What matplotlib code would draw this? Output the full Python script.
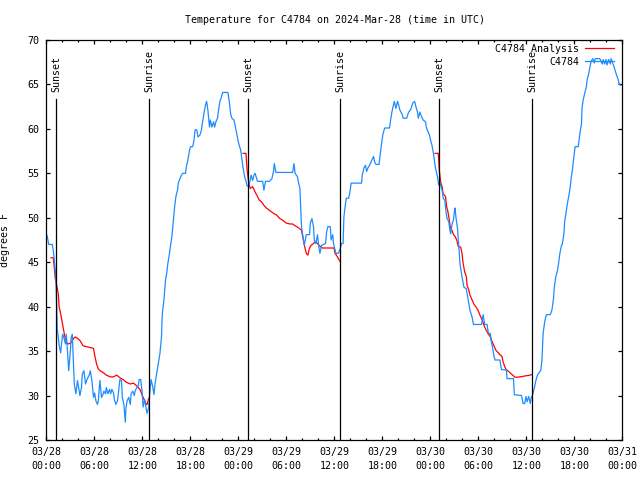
import matplotlib
matplotlib.use("Agg")
import matplotlib.pyplot as plt
import matplotlib.dates as mdates
import numpy as np
import pandas as pd

# ── data (hours after 2024-03-28 00:00 UTC) ──────────────
obs_hours = [
    0.1, 0.3, 0.75, 0.87, 0.96, 1.08, 1.2, 1.3, 1.37, 1.5, 1.62, 1.8, 1.9, 2.04,
    2.2, 2.4, 2.5, 2.7, 2.8, 2.9, 3.04, 3.1, 3.25, 3.4, 3.5, 3.7, 3.9, 4.04, 4.2,
    4.4, 4.5, 4.7, 4.9, 5.04, 5.2, 5.4, 5.5, 5.7, 5.9, 6.04, 6.2, 6.4, 6.5, 6.7,
    6.9, 7.04, 7.2, 7.4, 7.5, 7.7, 7.9, 8.04, 8.2, 8.4, 8.5, 8.7, 8.9, 9.04, 9.2,
    9.4, 9.5, 9.7, 9.875, 9.96, 10.1, 10.3, 10.5, 10.6, 10.8, 11.0, 11.1, 11.3,
    11.5, 11.6, 11.8, 12.0, 12.1, 12.3, 12.5, 12.6, 12.8, 12.96, 13.1, 13.3,
    13.46, 13.6, 13.8, 14.0, 14.2, 14.4, 14.5, 14.7, 14.9, 15.04, 15.2, 15.4,
    15.5, 15.7, 15.9, 16.04, 16.2, 16.4, 16.5, 16.7, 16.9, 17.04, 17.4, 17.5,
    17.7, 17.9, 18.04, 18.3, 18.46, 18.6, 18.8, 18.96, 19.2, 19.4, 19.5, 19.7,
    19.9, 20.04, 20.2, 20.4, 20.5, 20.7, 20.9, 21.04, 21.2, 21.4, 21.5, 21.7,
    21.9, 22.04, 22.7, 22.9, 23.04, 23.2, 23.46, 23.6, 23.8, 23.96, 24.1, 24.3,
    24.46, 24.6, 24.8, 24.96, 25.1, 25.3, 25.46, 25.6, 25.8, 25.96, 26.1, 26.4,
    27.04, 27.2, 27.4, 27.9, 28.2, 28.4, 28.5, 28.7, 30.8, 30.96, 31.1, 31.4,
    31.5, 31.7, 31.8, 31.9, 32.04, 32.25, 32.5, 32.9, 33.0, 33.2, 33.4, 33.5,
    33.7, 33.9, 34.04, 34.2, 34.4, 34.9, 35.04, 35.2, 35.5, 35.6, 35.8, 35.9,
    36.04, 36.2, 36.5, 36.7, 36.9, 37.1, 37.2, 37.4, 37.5, 37.8, 37.96, 38.1,
    39.4, 39.5, 39.7, 39.9, 40.04, 40.2, 40.4, 40.5, 40.7, 40.9, 41.04, 41.2,
    41.6, 41.8, 41.96, 42.1, 42.3, 42.9, 43.04, 43.2, 43.4, 43.5, 43.7, 43.9,
    44.04, 44.2, 44.5, 44.6, 45.04, 45.3, 45.5, 45.6, 45.8, 46.04, 46.2, 46.4,
    46.5, 46.7, 46.9, 47.1, 47.4, 47.5, 47.7, 47.9, 48.04, 48.2, 48.4, 48.5,
    48.6, 48.9, 49.04, 49.2, 49.4, 49.5, 49.6, 49.8, 49.96, 50.1, 50.3, 50.45,
    50.55, 50.7, 50.9, 51.04, 51.1, 51.2, 51.4, 51.5, 51.6, 51.7, 51.9, 52.04,
    52.2, 52.5, 52.75, 52.96, 53.2, 53.4, 54.4, 54.6, 54.8, 55.1, 55.25, 55.5,
    55.6, 55.8, 55.96, 56.1, 56.7, 56.9, 57.5, 57.6, 58.4, 58.5, 59.4, 59.6,
    59.8, 59.96, 60.1, 60.3, 60.5, 60.6, 60.8, 61.04, 61.2, 61.4, 61.6, 61.8,
    61.96, 62.04, 62.1, 62.3, 62.5, 63.0, 63.2, 63.4, 63.5, 63.7, 63.9, 64.04,
    64.2, 64.4, 64.5, 64.7, 64.8, 64.96, 65.1, 65.3, 65.5, 65.6, 65.8, 65.9,
    66.04, 66.1, 66.5, 66.7, 66.9, 66.96, 67.1, 67.3, 67.5, 67.6, 67.8, 67.96,
    68.1, 68.3, 68.5, 68.6, 69.2, 69.5, 69.6, 69.8, 69.96, 70.1, 70.3, 70.5,
    70.6, 70.8, 70.96, 71.1, 71.3, 71.5, 71.6, 71.8,
]
obs_temps = [
    48.0, 47.0, 47.0, 46.3, 45.6, 44.4, 43.3, 40.0, 37.5, 36.5, 35.6, 34.8, 35.8, 36.9,
    36.5, 35.8, 36.9, 34.3, 32.8, 33.9, 35.4, 36.5, 36.9, 33.5, 31.3, 30.2, 31.7, 30.9, 30.0,
    30.9, 32.4, 32.8, 31.3, 31.7, 32.0, 32.4, 32.8, 31.7, 29.8, 30.3, 29.4, 29.0, 29.4, 31.7,
    29.8, 30.0, 30.5, 30.2, 30.9, 30.2, 30.7, 30.2, 30.7, 30.3, 29.6, 29.0, 29.4, 30.5, 31.8,
    31.7, 29.8, 29.0, 27.0, 28.6, 29.4, 29.8, 29.0, 30.2, 30.5, 30.0, 30.5, 30.9,
    31.1, 31.8, 31.8, 30.2, 28.7, 29.6, 28.4, 28.0, 28.7, 30.6, 31.8, 31.0,
    30.1, 31.4, 32.5, 33.6, 34.7, 36.6, 39.2, 40.7, 43.0, 43.7, 44.9, 46.0,
    46.7, 47.9, 49.9, 51.2, 52.4, 53.1, 53.9, 54.4, 54.8, 55.0, 55.0, 55.7,
    56.5, 57.6, 58.0, 58.0, 58.7, 59.9, 59.9, 59.1, 59.3, 59.9, 60.6, 61.7,
    62.7, 63.1, 62.1, 60.2, 61.0, 60.2, 60.8, 60.2, 60.8, 61.2, 61.9, 63.1,
    63.6, 64.1, 64.1, 62.9, 61.7, 61.2, 61.0, 60.4, 59.5, 58.7, 58.2, 57.6,
    56.5, 55.6, 54.6, 54.1, 53.6, 53.5, 54.1, 54.8, 54.2, 54.8, 55.0, 54.1,
    54.1, 53.1, 54.1, 54.1, 54.4, 55.2, 56.1, 55.1, 55.1, 56.1, 55.0, 54.6,
    54.1, 53.3, 51.2, 49.0, 48.1, 46.9, 48.1, 48.1, 49.4, 49.9, 49.0, 47.5,
    47.1, 48.1, 46.9, 46.0, 46.9, 47.1, 48.4, 49.0, 49.0, 47.5, 48.1, 47.1,
    46.6, 46.0, 46.0, 46.4, 47.1, 47.1, 50.1, 51.6, 52.2, 52.2, 52.9, 53.9,
    53.9, 54.8, 55.6, 55.9, 55.2, 55.6, 55.9, 56.1, 56.5, 56.9, 56.3, 56.0,
    56.0, 57.6, 58.7, 59.5, 60.1, 60.1, 61.0, 61.9, 62.7, 63.1, 62.3, 63.1,
    62.7, 62.1, 61.6, 61.2, 61.2, 61.9, 62.1, 62.3, 62.9, 63.1, 62.5, 61.9,
    61.2, 61.9, 61.4, 61.0, 60.8, 60.2, 59.7, 59.3, 58.7, 58.2, 57.2, 56.5,
    55.8, 54.6, 53.7, 54.0, 53.3, 53.0, 52.2, 52.0, 50.7, 49.9, 49.6, 48.6,
    48.2, 49.2, 49.8, 50.9, 51.1, 50.1, 48.8, 47.5, 46.4, 44.9, 43.7, 43.0,
    42.2, 42.0, 40.7, 39.6, 38.9, 38.0, 38.0, 39.1, 38.0, 38.0, 37.0, 37.0,
    36.2, 35.3, 34.4, 34.0, 34.0, 32.9, 32.9, 31.9, 31.9, 30.1, 30.0, 29.1,
    29.1, 29.9, 29.3, 29.9, 29.1, 29.7, 30.1, 31.0, 31.7, 32.3, 32.6, 32.8,
    34.0, 35.9, 37.0, 38.3, 39.1, 39.1, 39.6, 40.9, 42.2, 43.4, 44.1, 44.9,
    46.0, 46.9, 47.0, 48.2, 49.6, 50.5, 51.4, 52.4, 53.5, 54.4, 55.6, 56.5,
    57.6, 58.0, 58.0, 59.5, 60.6, 62.3, 63.2, 64.0, 64.7, 65.5, 66.2, 67.0,
    67.6, 67.9, 67.4, 67.9, 67.9, 67.3, 67.8, 67.3, 67.8, 67.2, 67.8, 67.3,
    67.9, 67.4, 67.0, 66.6, 66.0, 65.5, 65.1, 64.9,
]

nan = float("nan")
ana_hours = [
    0.58, 0.87, 1.0, 1.1, 1.3, 1.5, 1.6, 1.8, 1.96, 2.1, 2.3, 2.5, 2.75, 3.04,
    3.4, 3.6, 3.8, 4.2, 4.6, 5.04, 5.46, 5.9, 6.1, 6.3, 6.5, 6.7, 7.1, 7.5, 8.0,
    8.4, 8.8, 9.2, 9.6, 10.0, 10.5, 10.9, 11.3, 11.7, 12.1, 12.5, 12.6, 12.8,
    12.85,
    24.6, 24.96, 25.1, 25.3, 25.5, 25.8, 26.1, 26.4, 26.6, 26.9, 27.2, 27.5,
    27.96, 28.4, 28.8, 29.2, 29.5, 30.0, 30.5, 30.8, 31.1, 31.5, 31.9, 32.1,
    32.3, 32.5, 32.7, 32.9, 33.1, 33.4, 33.6, 33.9, 34.2, 34.5, 35.96, 36.1,
    36.4, 36.6, 36.75,
    36.8,
    48.6, 49.0, 49.13, 49.3, 49.5, 49.6, 49.9, 50.04, 50.2, 50.4, 50.5, 50.7,
    50.9, 51.1, 51.3, 51.5, 51.8, 51.96, 52.1, 52.3, 52.5, 52.6, 52.8, 52.96,
    53.2, 53.5, 53.7, 53.96, 54.2, 54.5, 54.7, 54.96, 55.2, 55.5, 55.7, 55.96,
    56.2, 56.5, 56.7, 56.96, 57.1, 57.3, 57.5, 57.8, 58.04, 58.3, 58.6, 59.2,
    59.8, 60.5, 60.75,
]
ana_temps = [
    45.5, 45.5, 44.4, 43.3, 42.4, 41.4, 40.0, 39.2, 38.4, 37.7, 36.7, 36.0, 35.8, 35.9,
    36.4, 36.6, 36.5, 36.2, 35.6, 35.5, 35.4, 35.3, 34.3, 33.5, 33.0, 32.8, 32.6, 32.3, 32.1,
    32.1, 32.3, 32.0, 31.8, 31.5, 31.3, 31.4, 31.1, 30.7, 29.8, 29.0, 29.0, 29.7,
    nan,
    57.25, 57.25, 55.4, 53.9, 53.3, 53.5, 52.9, 52.4, 52.0, 51.8, 51.4, 51.1,
    50.8, 50.5, 50.3, 49.9, 49.75, 49.4, 49.3, 49.3, 49.1, 48.9, 48.6, 47.7,
    46.75, 46.0, 45.8, 46.6, 46.9, 47.1, 47.3, 47.1, 46.8, 46.6, 46.6, 46.0,
    45.6, 45.25, 45.06,
    nan,
    57.25, 57.25, 55.3, 54.0, 53.4, 52.7, 52.4, 51.25, 50.7, 49.6, 48.9, 48.6,
    48.1, 47.9, 47.5, 46.75, 46.7, 46.0, 44.9, 43.9, 43.4, 42.4, 41.9, 41.3,
    40.8, 40.2, 40.0, 39.6, 39.06, 38.5, 37.9, 37.4, 37.0, 36.6, 36.1, 35.6,
    35.1, 34.8, 34.6, 34.4, 33.8, 33.25, 32.9, 32.7, 32.5, 32.3, 32.05, 32.1,
    32.2, 32.3, 32.4,
]

sun_labels = ["Sunset", "Sunrise", "Sunset", "Sunrise", "Sunset", "Sunrise"]
sun_times = ["2024-03-28 01:15", "2024-03-28 12:52", "2024-03-29 01:15",
             "2024-03-29 12:45", "2024-03-30 01:07", "2024-03-30 12:45"]

# ── style ───────────────────────────────────────────────
plt.rcParams["font.family"] = ["DejaVu Sans Mono"]
plt.rcParams["font.size"] = 7.2

base = pd.Timestamp("2024-03-28 00:00")
obs_t = base + pd.to_timedelta(obs_hours, unit="h")
ana_t = base + pd.to_timedelta(ana_hours, unit="h")

fig = plt.figure(figsize=(6.4, 4.8), dpi=100)
ax = fig.add_axes([46.3 / 640, 40 / 480, 576 / 640, 400 / 480])

ax.plot(ana_t, ana_temps, color="#ff0000", lw=0.9, label="C4784 Analysis")
ax.plot(obs_t, obs_temps, color="#1e8cff", lw=0.9, label="C4784")

for lab, ts in zip(sun_labels, sun_times):
    t = pd.Timestamp(ts)
    ax.axvline(t, ymin=0, ymax=0.8525, color="black", lw=0.9, zorder=5)
    ax.text(t, 0.87, lab, rotation=90, ha="center", va="bottom",
            transform=ax.get_xaxis_transform())

ax.set_xlim(base, base + pd.Timedelta(hours=72))
ax.set_ylim(25, 70)
ax.set_yticks(np.arange(25, 71, 5))

ax.xaxis.set_major_locator(mdates.HourLocator(byhour=[0, 6, 12, 18]))
ax.xaxis.set_minor_locator(mdates.HourLocator(byhour=range(0, 24, 2)))
ax.xaxis.set_major_formatter(mdates.DateFormatter("%m/%d\n%H:%M"))

ax.tick_params(which="both", direction="in", top=True, right=True, width=0.9)
ax.tick_params(which="major", length=3)
ax.tick_params(which="minor", length=1.6)
ax.tick_params(axis="x", pad=5)
ax.tick_params(axis="y", pad=5)
for lbl in ax.get_xticklabels():
    lbl.set_linespacing(1.55)
for s in ax.spines.values():
    s.set_linewidth(0.9)

ax.set_ylabel("degrees F")
ax.yaxis.set_label_coords(-0.063, 0.5)

fig.text(0.523, 0.958, "Temperature for C4784 on 2024-Mar-28 (time in UTC)",
         ha="center", va="center")

ax.legend(loc="upper right", bbox_to_anchor=(0.9856, 0.99), frameon=False,
          markerfirst=False, borderpad=0, borderaxespad=0, handlelength=2.9,
          handletextpad=0.6, labelspacing=0.3)

fig.savefig("out.png", dpi=100)
